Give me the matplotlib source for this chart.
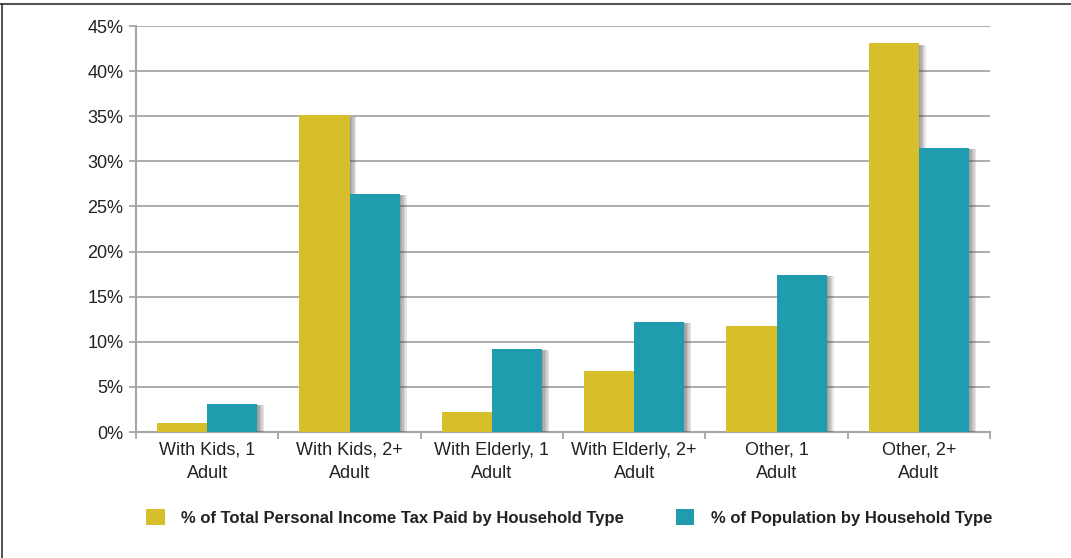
import numpy as np
import matplotlib.pyplot as plt
import matplotlib.patheffects as pe
from matplotlib.ticker import FuncFormatter, MultipleLocator

plt.rcParams['font.family'] = ['Liberation Sans', 'DejaVu Sans']

# data
categories = ['With Kids, 1\nAdult', 'With Kids, 2+\nAdult', 'With Elderly, 1\nAdult',
              'With Elderly, 2+\nAdult', 'Other, 1\nAdult', 'Other, 2+\nAdult']
tax_share = [1.0, 35.1, 2.2, 6.8, 11.7, 43.1]
pop_share = [3.1, 26.4, 9.2, 12.2, 17.4, 31.5]
label1 = '% of Total Personal Income Tax Paid by Household Type'
label2 = '% of Population by Household Type'

yellow = '#D6BF2A'
teal = '#1F9CAE'
grid_col = '#A6A6A6'

fig = plt.figure(figsize=(10.71, 5.58), dpi=100)
ax = fig.add_axes([0.127, 0.2258, 0.7974, 0.7276])

x = np.arange(len(categories))
w = 0.352
# soft drop shadow: a few stacked faint offsets
shadow = [pe.SimplePatchShadow(offset=(o, -1.0), shadow_rgbFace='#444444', alpha=0.13)
          for o in (5.0, 4.0, 3.0, 2.0, 1.0)] + [pe.Normal()]
b1 = ax.bar(x - w / 2, tax_share, w, color=yellow, label=label1, zorder=3)
b2 = ax.bar(x + w / 2, pop_share, w, color=teal, label=label2, zorder=4)
for bars in (b1, b2):
    for r in bars:
        r.set_path_effects(shadow)

ax.set_xlim(-0.5, len(categories) - 0.5)
ax.set_ylim(0, 45)
ax.yaxis.set_major_locator(MultipleLocator(5))
ax.yaxis.set_major_formatter(FuncFormatter(lambda v, p: '%d%%' % v))
ax.grid(axis='y', color=grid_col, linewidth=1.3, zorder=0)
ax.set_axisbelow(True)

ax.set_xticks(x)
ax.set_xticklabels(categories, fontsize=13, color='#222222', linespacing=1.45)
ax.tick_params(axis='x', length=0, pad=7)
ax.set_xticks(np.arange(-0.5, len(categories)), minor=True)
ax.tick_params(axis='x', which='minor', length=5, color=grid_col, width=1.3)
ax.tick_params(axis='y', length=5, color=grid_col, width=1.3, labelsize=13,
               labelcolor='#222222', pad=4)

for s in ('top', 'right'):
    ax.spines[s].set_visible(False)
for s in ('left', 'bottom'):
    ax.spines[s].set_color(grid_col)
    ax.spines[s].set_linewidth(1.5)

leg = fig.legend(handles=[b1, b2], loc='center left', bbox_to_anchor=(0.1225, 0.072),
                 ncol=2, frameon=False, handlelength=1.1, handleheight=1.1,
                 handletextpad=1.0, columnspacing=3.1,
                 prop={'weight': 'bold', 'size': 12})
for t in leg.get_texts():
    t.set_color('#222222')
for h in leg.legend_handles:
    h.set_path_effects([])

# outer frame lines (top and left)
fig.add_artist(plt.Line2D([0, 1], [0.9925, 0.9925], transform=fig.transFigure, color='#555555', lw=1.5))
fig.add_artist(plt.Line2D([0.0015, 0.0015], [0, 0.9925], transform=fig.transFigure, color='#333333', lw=1.2))

plt.savefig('out.png', dpi=100)
